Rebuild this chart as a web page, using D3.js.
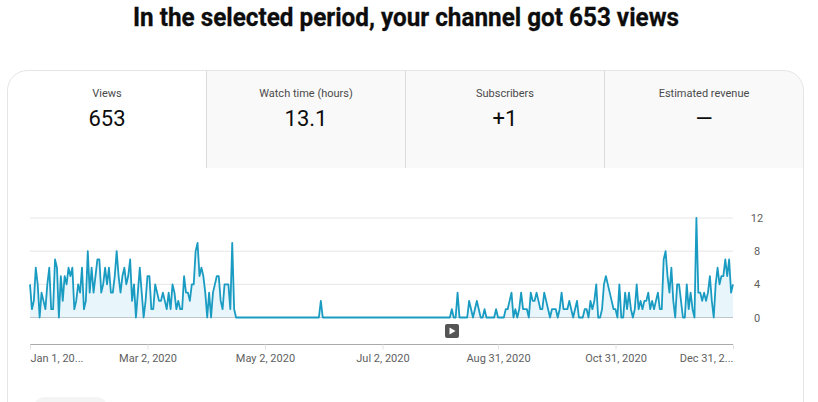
<!DOCTYPE html>
<html>
<head>
<meta charset="utf-8">
<script src="https://cdn.jsdelivr.net/npm/d3@7"></script>
<style>
  html, body { margin: 0; padding: 0; background: #fff; overflow: hidden; }
  text { font-family: Roboto, sans-serif; }
</style>
</head>
<body>
<div id="chart"></div>
<script>
const titleText = 'In the selected period, your channel got 653 views';
const tabLabels = ['Views', 'Watch time (hours)', 'Subscribers', 'Estimated revenue'];
const tabValues = ['653', '13.1', '+1', '—'];
const tickDates = ['2020-01-01', '2020-03-02', '2020-05-02', '2020-07-02', '2020-08-31', '2020-10-31', '2020-12-31'];
const tickLabels = ['Jan 1, 20...', 'Mar 2, 2020', 'May 2, 2020', 'Jul 2, 2020', 'Aug 31, 2020', 'Oct 31, 2020', 'Dec 31, 2...'];
const yTicks = [0, 4, 8, 12];

// daily views
const viewsJanApr = [
  4,1,2,6,4,0,3,2,1,4, 6,1,1,7,6,0,5,2,5,4, 6,5,6,1,2,4,3,6,1,2,
  8,3,6,3,5,7,7,3,4,6, 4,6,3,3,5,8,5,3,5,6, 4,5,7,2,4,0,3,6,3,0,
  2,5,5,1,1,4,3,2,2,3, 2,1,3,1,4,3,1,2,1,1, 5,3,3,2,4,4,8,9,5,6,
  5,3,0,3,0,3,4,5,5,2, 1,4,4,4,1,9,1
];
const viewsAprAug = [
  0,0,0,0,0,0,0,0,0,0, 0,0,0,0,0,0,0,0,0,0, 0,0,0,0,0,0,0,0,0,0,
  0,0,0,0,0,0,0,0,0,0, 0,0,0,0,2,0,0,0,0,0, 0,0,0,0,0,0,0,0,0,0,
  0,0,0,0,0,0,0,0,0,0, 0,0,0,0,0,0,0,0,0,0, 0,0,0,0,0,0,0,0,0,0,
  0,0,0,0,0,0,0,0,0,0, 0,0,0,0,0,0,0,0,0,0, 0,0,1,0,0,3,0,0,0,0,
  0,2,1,0,1,2,1,0,0,1, 0,0,0,0,0,1,0,0,0,0, 1,1,2,3,0,1,0,1,3,1,
  1,1,0,3,2,2,3,2,1,1, 3,2,1,0,1,1,1,0,1,3, 1,1,1,2,1,0,1,2,0
];
const viewsOctDec = [
  0,0,1,1,0,2,1,2,4,0, 0,1,4,5,4,3,2,1,1,0, 4,0,0,3,1,3,1,0,1,4,
  1,2,1,2,2,3,1,2,1,2, 3,1,1,7,8,5,3,6,2,0, 4,4,2,0,0,4,1,3,1,0,
  12,3,3,2,3,2,3,5,2,0, 4,6,4,5,5,7,5,7,3,4
];
const views = [...viewsJanApr, ...viewsAprAug, ...viewsOctDec];

const width = 818, height = 402;
const svg = d3.select('#chart').append('svg')
  .attr('width', width)
  .attr('height', height)
  .style('display', 'block');

const parseDay = d3.utcParse('%Y-%m-%d');
const start = parseDay('2020-01-01');

const x = d3.scaleUtc()
  .domain([start, parseDay('2020-12-31')])
  .range([30, 733]);
const y = d3.scaleLinear()
  .domain([0, 12])
  .range([317.5, 218]);

// title
svg.append('text')
  .attr('x', 406)
  .attr('y', 26)
  .attr('text-anchor', 'middle')
  .attr('font-size', 26)
  .attr('font-weight', 700)
  .attr('fill', '#0d0d0d')
  .attr('stroke', '#0d0d0d')
  .attr('stroke-width', 0.3)
  .attr('textLength', 546)
  .attr('lengthAdjust', 'spacingAndGlyphs')
  .text(titleText);

// card and tabs
const tabX = d3.scaleLinear().domain([0, 4]).range([7.5, 803.5]);
const cardTop = 70.5, tabBottom = 168;

svg.append('path')
  .attr('fill', '#f9f9f9')
  .attr('d', `M206.5,${tabBottom}V${cardTop}H783.5a20,20 0 0 1 20,20V${tabBottom}Z`);

svg.append('path')
  .attr('fill', 'none')
  .attr('stroke', '#e5e5e5')
  .attr('d', `M7.5,${height + 10}V${cardTop + 20}a20,20 0 0 1 20,-20H783.5a20,20 0 0 1 20,20V${height + 10}`);

svg.selectAll('.divider')
  .data([1, 2, 3])
  .join('line')
  .attr('class', 'divider')
  .attr('x1', d => Math.round(tabX(d)) - 0.5)
  .attr('x2', d => Math.round(tabX(d)) - 0.5)
  .attr('y1', cardTop)
  .attr('y2', tabBottom)
  .attr('stroke', '#dcdcdc');

svg.selectAll('.tab-label')
  .data(tabLabels)
  .join('text')
  .attr('class', 'tab-label')
  .attr('x', (d, i) => tabX(i + 0.5))
  .attr('y', 97)
  .attr('text-anchor', 'middle')
  .attr('font-size', 11)
  .attr('fill', '#4a4a4a')
  .text(d => d);

svg.selectAll('.tab-value')
  .data(tabValues)
  .join('text')
  .attr('class', 'tab-value')
  .attr('x', (d, i) => tabX(i + 0.5))
  .attr('y', 126)
  .attr('text-anchor', 'middle')
  .attr('font-size', 22)
  .attr('fill', '#0d0d0d')
  .text(d => d);

// grid
svg.selectAll('.grid')
  .data(yTicks)
  .join('line')
  .attr('class', 'grid')
  .attr('x1', 30)
  .attr('x2', 733)
  .attr('y1', d => y(d))
  .attr('y2', d => y(d))
  .attr('stroke', d => d === 0 ? '#999' : '#e6e6e6');

svg.selectAll('.y-label')
  .data(yTicks)
  .join('text')
  .attr('class', 'y-label')
  .attr('x', 757)
  .attr('y', d => y(d) + 4)
  .attr('text-anchor', 'middle')
  .attr('font-size', 11)
  .attr('fill', '#606060')
  .text(d => d);

// area + line
const dayX = (d, i) => x(d3.utcDay.offset(start, i));

svg.append('path')
  .datum(views)
  .attr('fill', '#e8f6fb')
  .attr('d', d3.area().x(dayX).y0(y(0)).y1(d => y(d)));

svg.append('path')
  .datum(views)
  .attr('fill', 'none')
  .attr('stroke', '#1a9bc2')
  .attr('stroke-width', 1.8)
  .attr('stroke-linejoin', 'round')
  .attr('d', d3.line().x(dayX).y(d => y(d)));

// date axis
const xAxis = d3.axisBottom(x)
  .tickValues(tickDates.map(parseDay))
  .tickFormat((d, i) => tickLabels[i])
  .tickSize(5);

const axisG = svg.append('g')
  .attr('transform', 'translate(0,344.5)')
  .call(xAxis);

axisG.select('.domain').attr('stroke', '#aaa').attr('d', 'M30,0H733');
axisG.selectAll('.tick line').attr('stroke', '#e2e2e2');
axisG.selectAll('.tick text')
  .attr('font-family', 'Roboto, sans-serif')
  .attr('font-size', 11)
  .attr('fill', '#606060')
  .attr('y', 10)
  .attr('text-anchor', (d, i) => i === 0 ? 'start' : i === tickLabels.length - 1 ? 'end' : 'middle');

// play marker
svg.append('rect')
  .attr('x', 445).attr('y', 324)
  .attr('width', 14).attr('height', 14)
  .attr('rx', 2)
  .attr('fill', '#555');
svg.append('path')
  .attr('fill', '#fff')
  .attr('d', 'M449.5,327.5L455.5,331L449.5,334.5Z');

// button peeking in at the bottom
svg.append('rect')
  .attr('x', 33).attr('y', 397)
  .attr('width', 75).attr('height', 30)
  .attr('rx', 12)
  .attr('fill', '#f4f4f4');
</script>
</body>
</html>
